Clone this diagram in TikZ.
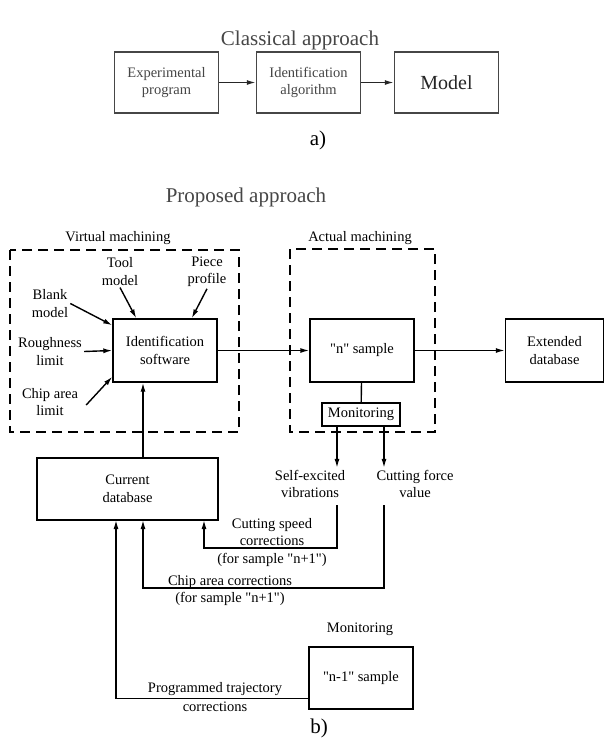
\documentclass[tikz,border=0pt]{standalone}
\usepackage{fontspec}
\setmainfont{Liberation Serif}
\usetikzlibrary{positioning, calc}
\usetikzlibrary{arrows.meta}

\begin{document}
\begin{tikzpicture}[x=1pt,y=-1pt]
\definecolor{greytext}{RGB}{70,70,70};
\def\q{\textquotedbl}
\tikzstyle{every node}=[font=\fontsize{14.5}{17.5}\selectfont, align=center, inner sep=2pt];
\tikzstyle{block}=[draw, line width=1.4pt, minimum width=104pt, minimum height=63pt];
\tikzstyle{arr}=[line width=1.4pt, -{Latex[length=9pt,width=5pt]}];
\tikzstyle{frame}=[line width=1.5pt, dash pattern=on 10pt off 6pt];
\useasboundingbox (0,0) rectangle (607,740);
\fill[white] (0,0) rectangle (607,740);

% a)
\node[text=greytext] (clas) at (300,40) {\fontsize{21}{25}\selectfont Classical approach};
\tikzstyle{every node}=[font=\fontsize{14.5}{17.5}\selectfont, align=center, inner sep=2pt, text=greytext];
\node[block, draw=greytext, minimum height=61pt] (exp) at (166.5,82.5) {Experimental\\program};
\node[block, draw=greytext, minimum height=61pt] (idalg) at (308.5,82.5) {Identification\\algorithm};
\node[block, draw=greytext, minimum height=61pt, text=black!85] (model) at (446.5,82.5) {\fontsize{20}{24}\selectfont Model};
\foreach \a/\b in {exp/idalg, idalg/model}
\draw[arr, black!85] (\a) -- (\b);
\node[text=black] (a) at (318,140) {\fontsize{21}{25}\selectfont a)};

% b)
\tikzstyle{every node}=[font=\fontsize{14.5}{17.5}\selectfont, align=center, inner sep=2pt, text=black];
\node[text=greytext] (prop) at (246,197) {\fontsize{21}{25}\selectfont Proposed approach};

\draw[frame] (10,250) rectangle (239,432);
\draw[frame] (290,249) rectangle (435,432);
\node (virt) at (118,238) {Virtual machining};
\node (act) at (360,238) {Actual machining};

\node[block] (idsw) at (165,350.5) {Identification\\software};
\node[block] (nsamp) at (362,350.5) {\q n\q{} sample};
\node[block, minimum width=98pt] (ext) at (554.5,350.5) {Extended\\database};
\node[draw, line width=1.4pt, minimum width=78pt, minimum height=23pt, inner sep=1pt] (mon) at (361,414.5) {Monitoring};
\node[block, minimum width=181pt, minimum height=62pt] (curdb) at (127.5,489) {Current\\database};
\node[block, minimum height=62pt] (prev) at (361,678) {\q n-1\q{} sample};

% inputs of the identification software
\node (tool) at (120,271.5) {Tool\\model};
\node (piece) at (207,271.5) {Piece\\profile};
\node (blank) at (50,303.5) {Blank\\model};
\node (rough) at (50,351.5) {Roughness\\limit};
\node (chip) at (50,402) {Chip area\\limit};
\draw[arr] (tool.south) -- ($(idsw.north west)+(24,0)$);
\draw[arr] (piece.south) -- ($(idsw.north east)+(-26,0)$);
\draw[arr] (blank.east) -- ($(idsw.north west)+(0,7)$);
\draw[arr] (rough.east) -- (idsw.west);
\draw[arr] ($(chip.east)+(6,3)$) -- ($(idsw.south west)+(0,-6)$);

\draw[arr] (idsw) -- (nsamp);
\draw[arr] (nsamp) -- (ext);
\draw[line width=1.4pt] (nsamp) -- (mon);

% monitoring outputs
\node (selfx) at (310,484) {Self-excited\\vibrations};
\node (force) at (415,484) {Cutting force\\value};
\coordinate (m1) at ($(mon.south)+(-24,0)$);
\coordinate (m2) at ($(mon.south)+(23,0)$);
\draw[arr] (m1) -- (m1 |- selfx.north);
\draw[arr] (m2) -- (m2 |- force.north);

% corrections
\coordinate (c1) at (116,520);
\coordinate (c2) at (143,520);
\coordinate (c3) at (204,520);
\draw[arr] (c2 |- curdb.north) -- (c2 |- idsw.south);
\draw[arr] (m1 |- 0,505) -- (m1 |- 0,548) -| (c3);
\draw[arr] (m2 |- 0,505) -- (m2 |- 0,588) -| (c2);
\draw[arr] ($(prev.south west)+(0,-11)$) -| (c1);

\node (speed) at (272,532) {Cutting speed\\corrections};
\node (speedn) at (272,560) {(for sample \q n+1\q)};
\node (area) at (230,582) {Chip area corrections};
\node (arean) at (230,599) {(for sample \q n+1\q)};
\node (traj) at (215,689) {Programmed trajectory};
\node (trajc) at (215,707) {corrections};
\node (mon2) at (360,629) {Monitoring};
\node (b) at (319,728) {\fontsize{21}{25}\selectfont b)};
\end{tikzpicture}
\end{document}
